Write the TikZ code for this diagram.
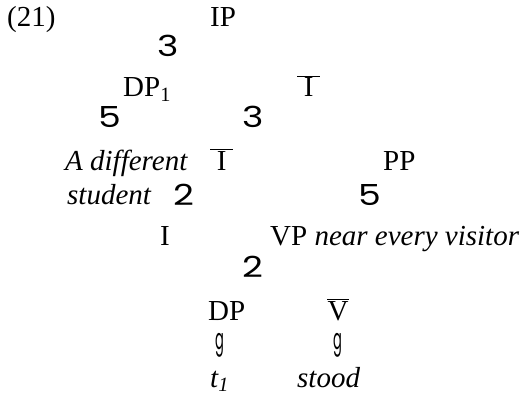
\documentclass[tikz,border=0pt]{standalone}
\usepackage{fontspec}
\usepackage{graphicx}
\setmainfont{Liberation Serif}
\newfontfamily\treefont{Poppins}
\usetikzlibrary{positioning}
\newcommand{\barlab}[2]{$\overline{\makebox[#1]{#2}}$}
\newcommand{\brk}[1]{{\treefont\scalebox{1.25}[1]{#1}}}
\newcommand{\stem}{{\treefont\scalebox{0.45}[1]{g}}}

\begin{document}
\begin{tikzpicture}[x=1pt,y=-1pt,font=\fontsize{29}{34}\selectfont]
    \tikzset{
      lab/.style={inner sep=0pt,anchor=base west},
      branch/.style={inner sep=0pt,anchor=base west},
      stemline/.style={inner sep=0pt,anchor=south west}
    }
    \useasboundingbox (0,0) rectangle (526,398);
    % top of the tree
    \node[lab] (ex) at (7,27) {(21)};
    \node[lab] (ip) at (210,27) {IP};
    \node[branch] (b-ip) at (157,57) {\brk{3}};
    \node[lab] (dp1) at (123,97) {DP\textsubscript{1}};
    \node[lab] (ibar1) at (297,97) {\barlab{0.8em}{I}};
    \node[branch] (b-dp) at (98,128) {\brk{5}};
    \node[branch] (b-ibar1) at (242,128) {\brk{3}};
    % middle
    \node[lab] (subj1) at (65,170) {\textit{A different}};
    \node[lab] (ibar2) at (210,170) {\barlab{0.8em}{I}};
    \node[lab] (pp) at (383,170) {PP};
    \node[lab] (subj2) at (67,204) {\textit{student}};
    \node[branch] (b-ibar2) at (173,205) {\brk{2}};
    \node[branch] (b-pp) at (358,205) {\brk{5}};
    \node[lab] (infl) at (160,245) {I};
    \node[lab] (vp) at (270,245) {VP \textit{near every visitor}};
    \node[branch] (b-vp) at (242,277) {\brk{2}};
    % bottom
    \node[lab] (dp) at (208,320) {DP};
    \node[lab] (vbar) at (327,320) {\barlab{0.75em}{V}};
    \node[stemline] (s-dp) at (215,358) {\stem};
    \node[stemline] (s-vbar) at (333,358) {\stem};
    \node[lab] (trace) at (210,387) {\textit{t\textsubscript{1}}};
    \node[lab] (verb) at (297,387) {\textit{stood}};
  \end{tikzpicture}
\end{document}
